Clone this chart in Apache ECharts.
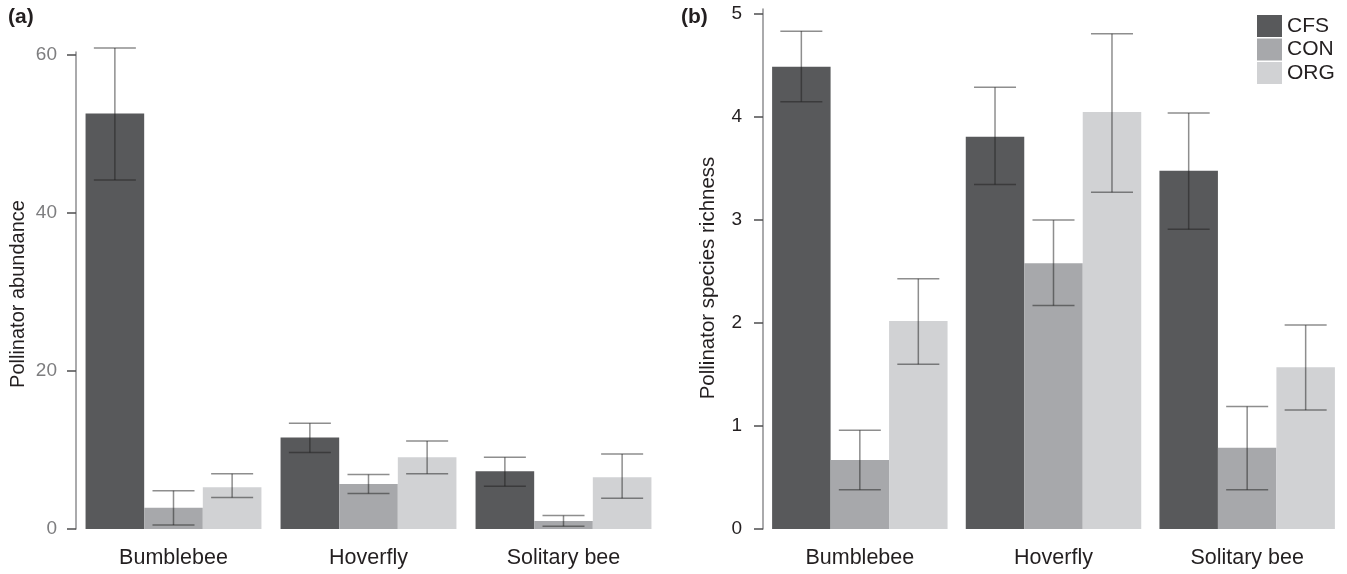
<!DOCTYPE html>
<html>
<head>
<meta charset="utf-8">
<script src="https://cdn.jsdelivr.net/npm/echarts@6/dist/echarts.min.js"></script>
<style>
  html, body { margin: 0; padding: 0; background: #fff; }
  #chart { width: 1347px; height: 574px; }
</style>
</head>
<body>
<div id="chart"></div>
<script>
// Pollinator groups on the category axis
const categories = ['Bumblebee', 'Hoverfly', 'Solitary bee'];
const treatments = ['CFS', 'CON', 'ORG'];

// (a) Pollinator abundance: means and error-bar limits
const abundCFS = [52.6, 11.6, 7.3];
const abundCFSLo = [44.2, 9.7, 5.4];
const abundCFSHi = [60.9, 13.4, 9.1];
const abundCON = [2.7, 5.7, 1.0];
const abundCONLo = [0.5, 4.5, 0.35];
const abundCONHi = [4.85, 6.9, 1.7];
const abundORG = [5.3, 9.1, 6.55];
const abundORGLo = [4.0, 7.0, 3.9];
const abundORGHi = [7.0, 11.15, 9.5];

// (b) Pollinator species richness: means and error-bar limits
const richCFS = [4.49, 3.81, 3.48];
const richCFSLo = [4.15, 3.345, 2.91];
const richCFSHi = [4.835, 4.29, 4.04];
const richCON = [0.67, 2.58, 0.79];
const richCONLo = [0.38, 2.17, 0.38];
const richCONHi = [0.96, 3.00, 1.19];
const richORG = [2.02, 4.05, 1.57];
const richORGLo = [1.60, 3.27, 1.155];
const richORGHi = [2.43, 4.81, 1.98];

// Axis tick values
const abundTicks = [0, 20, 40, 60];
const richTicks = [0, 1, 2, 3, 4, 5];

const colors = ['#58595b', '#a7a8ab', '#d1d2d4'];
const FONT = 'Liberation Sans, Arial, sans-serif';
const GAP_A = 0.098;
const GAP_B = 0.094;

function errData(lo, hi) {
  return lo.map((l, i) => [i, l, hi[i]]);
}

// Error bar: vertical whisker plus two caps, offset to the bar of this treatment
function errRender(slot, gap) {
  return function (params, api) {
    const x = api.value(0);
    const pLo = api.coord([x, api.value(1)]);
    const pHi = api.coord([x, api.value(2)]);
    const band = api.size([1, 0])[0];
    const bw = band * (1 - gap) / 3;
    const cx = pLo[0] + (slot - 1) * bw;
    const half = 21;
    const style = { stroke: 'rgba(30,30,30,0.5)', lineWidth: 1.5 };
    return {
      type: 'group',
      children: [
        { type: 'line', shape: { x1: cx, y1: pLo[1], x2: cx, y2: pHi[1] }, style },
        { type: 'line', shape: { x1: cx - half, y1: pHi[1], x2: cx + half, y2: pHi[1] }, style },
        { type: 'line', shape: { x1: cx - half, y1: pLo[1], x2: cx + half, y2: pLo[1] }, style }
      ]
    };
  };
}

function barSeries(name, data, axisIdx, color, gap) {
  return {
    name, type: 'bar', data,
    xAxisIndex: axisIdx, yAxisIndex: axisIdx,
    barGap: '0%', barCategoryGap: (gap * 100) + '%',
    itemStyle: { color },
    emphasis: { disabled: true },
    z: 2
  };
}

function errSeries(name, lo, hi, axisIdx, slot, gap) {
  return {
    name, type: 'custom',
    xAxisIndex: axisIdx, yAxisIndex: axisIdx,
    data: errData(lo, hi),
    renderItem: errRender(slot, gap),
    z: 5, silent: true
  };
}

function yAxisCommon(ticks, max, labelColor, gridIdx, margin) {
  return {
    type: 'value', gridIndex: gridIdx, min: 0, max,
    splitLine: { show: false },
    axisLine: { show: true, lineStyle: { color: '#8e8e90', width: 1.5 } },
    axisTick: { show: true, length: 9, customValues: ticks, lineStyle: { color: '#4d4d4f', width: 1.5 } },
    axisLabel: { customValues: ticks, margin, color: labelColor, fontSize: 19, fontFamily: FONT }
  };
}

function xAxisCommon(gridIdx) {
  return {
    type: 'category', gridIndex: gridIdx, data: categories,
    axisLine: { show: false },
    axisTick: { show: false },
    axisLabel: { margin: 18, color: '#231f20', fontSize: 21.5, fontFamily: FONT }
  };
}

const chart = echarts.init(document.getElementById('chart'), null, { renderer: 'canvas' });

chart.setOption({
  animation: false,
  backgroundColor: '#fff',
  grid: [
    { left: 76, top: 52, width: 585, height: 477, outerBoundsMode: 'none' },
    { left: 763, top: 9, width: 581, height: 520, outerBoundsMode: 'none' }
  ],
  xAxis: [xAxisCommon(0), xAxisCommon(1)],
  yAxis: [
    yAxisCommon(abundTicks, 60.4, '#7d7d7f', 0, 19),
    yAxisCommon(richTicks, 5.05, '#231f20', 1, 21)
  ],
  legend: {
    data: treatments,
    orient: 'vertical',
    left: 1252, top: 10,
    itemWidth: 25, itemHeight: 22, itemGap: 1.5,
    icon: 'rect',
    textStyle: { fontSize: 21, color: '#231f20', fontFamily: FONT }
  },
  graphic: [
    { type: 'text', left: 8, top: 7, style: { text: '(a)', font: 'bold 21px ' + FONT, fill: '#231f20' } },
    { type: 'text', left: 681, top: 7, style: { text: '(b)', font: 'bold 21px ' + FONT, fill: '#231f20' } },
    { type: 'text', x: 18, y: 294, rotation: Math.PI / 2,
      style: { text: 'Pollinator abundance', font: '20px ' + FONT, fill: '#231f20', align: 'center', verticalAlign: 'middle' } },
    { type: 'text', x: 708, y: 278, rotation: Math.PI / 2,
      style: { text: 'Pollinator species richness', font: '20.5px ' + FONT, fill: '#231f20', align: 'center', verticalAlign: 'middle' } }
  ],
  series: [
    barSeries('CFS', abundCFS, 0, colors[0], GAP_A),
    barSeries('CON', abundCON, 0, colors[1], GAP_A),
    barSeries('ORG', abundORG, 0, colors[2], GAP_A),
    errSeries('CFS', abundCFSLo, abundCFSHi, 0, 0, GAP_A),
    errSeries('CON', abundCONLo, abundCONHi, 0, 1, GAP_A),
    errSeries('ORG', abundORGLo, abundORGHi, 0, 2, GAP_A),
    barSeries('CFS', richCFS, 1, colors[0], GAP_B),
    barSeries('CON', richCON, 1, colors[1], GAP_B),
    barSeries('ORG', richORG, 1, colors[2], GAP_B),
    errSeries('CFS', richCFSLo, richCFSHi, 1, 0, GAP_B),
    errSeries('CON', richCONLo, richCONHi, 1, 1, GAP_B),
    errSeries('ORG', richORGLo, richORGHi, 1, 2, GAP_B)
  ]
});
</script>
</body>
</html>
